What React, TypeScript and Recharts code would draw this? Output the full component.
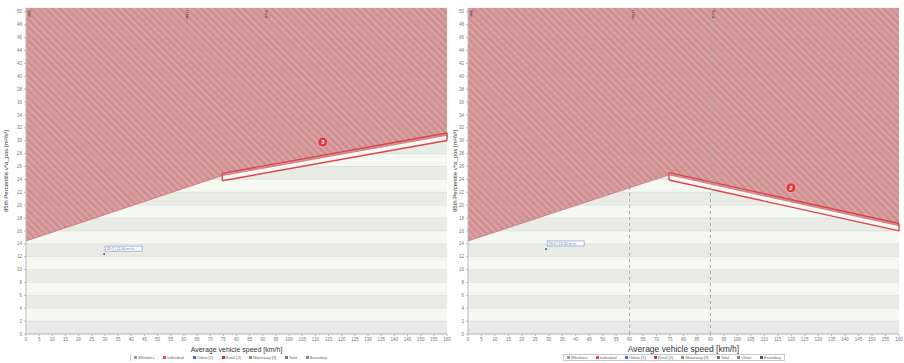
import { Area, CartesianGrid, ComposedChart, Line, ReferenceDot, ReferenceLine, XAxis, YAxis } from 'recharts';

// speed axis [km/h]
const speedTicks = [0, 5, 10, 15, 20, 25, 30, 35, 40, 45, 50, 55, 60, 65, 70, 75, 80, 85, 90, 95, 100, 105, 110, 115, 120, 125, 130, 135, 140, 145, 150, 155, 160];
// 95th percentile v*a_pos [m²/s³]
const valueTicks = [0, 2, 4, 6, 8, 10, 12, 14, 16, 18, 20, 22, 24, 26, 28, 30, 32, 34, 36, 38, 40, 42, 44, 46, 48, 50];

// limit curve, left chart
const leftLimitSpeed = [0, 74.6, 160];
const leftLimitValue = [14.44, 24.59, 30.84];
// limit curve, right chart
const rightLimitSpeed = [0, 74.6, 160];
const rightLimitValue = [14.44, 24.7, 16.8];

// highlighted stretch of the limit (speed range)
const highlightSpeed = [74.6, 160];

// phase markers at the top
const phaseSpeed = [0, 60, 90];
const phaseNames = ['Start', 'Urban', 'Rural'];

// numbered badges: speed, value, label
const leftBadge = { v: 112.8, y: 29.8, label: '3' };
const rightBadge = { v: 119.9, y: 22.7, label: '2' };

// trip result points with their note
const leftPoint = { v: 29.7, y: 12.4, text: '29.7 | 12.40 m²/s³' };
const rightPoint = { v: 29.0, y: 13.2, text: '29.0 | 13.20 m²/s³' };

const legendLeft = ['Whiskers', 'Individual', 'Urban [1]', 'Rural [2]', 'Motorway [3]', 'Total', 'Boundary'];
const legendRight = ['Whiskers', 'Individual', 'Urban [1]', 'Rural [2]', 'Motorway [3]', 'Total', 'Other', 'Boundary'];
const legendColors = ['#999', '#d9534f', '#3b6fc4', '#c0392b', '#6aa84f', '#777', '#888', '#555'];

const Y_TOP = 50.6;
const FONT = '"Liberation Sans", Arial, sans-serif';

function buildRows(speeds: number[], values: number[]) {
  return speeds.map((v, i) => {
    const b = values[i];
    const inBox = v >= highlightSpeed[0] && v <= highlightSpeed[1];
    return {
      v,
      limit: b,
      zone: [b, Y_TOP],
      gap: inBox ? [b - 0.75, b] : null,
      box: inBox ? [b - 0.8, b + 0.35] : null,
    };
  });
}

function limitAt(speeds: number[], values: number[], v: number) {
  const i = speeds.indexOf(v);
  return values[i];
}

type ChartProps = {
  id: string;
  speeds: number[];
  values: number[];
  width: number;
  yWidth: number;
  marginRight: number;
  badge: { v: number; y: number; label: string };
  point: { v: number; y: number; text: string };
  dashedPhases: boolean;
  titleSize: number;
};

function RdeChart({ id, speeds, values, width, yWidth, marginRight, badge, point, dashedPhases, titleSize }: ChartProps) {
  const rows = buildRows(speeds, values);
  const b0 = limitAt(speeds, values, highlightSpeed[0]);
  const b1 = limitAt(speeds, values, highlightSpeed[1]);
  return (
    <ComposedChart width={width} height={363} data={rows} margin={{ top: 8, right: marginRight, bottom: 0, left: 0 }}>
      <defs>
        <pattern id={`hatch-${id}`} patternUnits="userSpaceOnUse" width="5" height="5" patternTransform="rotate(-45)">
          <rect width="5" height="5" fill="#d89c9e" />
          <rect width="2.5" height="5" fill="#cb8587" />
        </pattern>
      </defs>
      <CartesianGrid
        vertical={false}
        stroke="#d9dcd5"
        strokeWidth={0.6}
        horizontalFill={['#f6f9f1', '#e9ece5']}
      />
      <XAxis
        type="number"
        dataKey="v"
        domain={[0, 160]}
        ticks={speedTicks}
        interval={0}
        height={29}
        tick={{ fontSize: 4.5, fill: '#777', fontFamily: FONT }}
        tickSize={2}
        stroke="#bbb"
        label={{ value: 'Average vehicle speed [km/h]', position: 'insideBottom', offset: 11, fontSize: titleSize, fill: '#333', fontFamily: FONT }}
      />
      <YAxis
        type="number"
        domain={[0, Y_TOP]}
        ticks={valueTicks}
        interval={0}
        width={yWidth}
        tick={{ fontSize: 4.5, fill: '#777', fontFamily: FONT }}
        tickSize={2}
        stroke="#bbb"
        label={{ value: '95th Percentile v*a_pos [m²/s³]', angle: -90, position: 'insideLeft', offset: 6, fontSize: 6, fill: '#333', fontFamily: FONT, style: { textAnchor: 'middle' } }}
      />
      {phaseSpeed.map((s, i) => (
        <ReferenceLine
          key={s}
          x={s}
          stroke={dashedPhases && i > 0 ? '#a8a8a8' : 'none'}
          strokeDasharray="3 3"
          label={({ viewBox }: any) => (
            <text x={viewBox.x + 2} y={viewBox.y + 2} fontSize={3.5} fill="#333" fontFamily={FONT} transform={`rotate(90 ${viewBox.x + 2} ${viewBox.y + 2})`}>
              {phaseNames[i]}
            </text>
          )}
        />
      ))}
      <Area dataKey="gap" type="linear" stroke="none" fill="#ffffff" fillOpacity={1} isAnimationActive={false} connectNulls={false} />
      <Area dataKey="zone" type="linear" stroke="none" fill={`url(#hatch-${id})`} fillOpacity={0.92} isAnimationActive={false} />
      <Line dataKey="limit" type="linear" stroke="#c97476" strokeWidth={0.8} dot={false} activeDot={false} isAnimationActive={false} />
      <Area dataKey="box" type="linear" stroke="#d9464a" strokeWidth={1.4} fill="#d9464a" fillOpacity={0.05} isAnimationActive={false} connectNulls={false} />
      <ReferenceLine segment={[{ x: highlightSpeed[0], y: b0 - 0.8 }, { x: highlightSpeed[0], y: b0 + 0.35 }]} stroke="#d9464a" strokeWidth={1.4} />
      <ReferenceLine segment={[{ x: highlightSpeed[1], y: b1 - 0.8 }, { x: highlightSpeed[1], y: b1 + 0.35 }]} stroke="#d9464a" strokeWidth={1.4} ifOverflow="visible" />
      <ReferenceDot
        x={badge.v}
        y={badge.y}
        r={5}
        fill="#e0393e"
        stroke="#f4b0b0"
        strokeWidth={0.8}
        label={{ value: badge.label, position: 'center', fontSize: 6, fill: '#fff', fontFamily: FONT, fontWeight: 700 }}
      />
      <ReferenceDot
        x={point.v}
        y={point.y}
        r={1}
        fill="#3a5a9a"
        stroke="none"
        label={({ viewBox }: any) => (
          <g>
            <rect x={viewBox.x + 2} y={viewBox.y - 7} width={37} height={5} fill="#ffffff" stroke="#6b8cc9" strokeWidth={0.6} />
            <text x={viewBox.x + 3.5} y={viewBox.y - 3.3} fontSize={3.6} fill="#5a74a8" fontFamily={FONT}>
              {point.text}
            </text>
          </g>
        )}
      />
    </ComposedChart>
  );
}

function Legend({ items, left, width, boxed }: { items: string[]; left: number; width: number; boxed: boolean }) {
  return (
    <div
      style={{
        position: 'absolute',
        left,
        top: 354,
        width,
        height: 7,
        display: 'flex',
        alignItems: 'center',
        justifyContent: 'space-between',
        padding: '0 3px',
        boxSizing: 'border-box',
        border: boxed ? '0.6px solid #c9c9c9' : 'none',
        borderLeft: '0.6px solid #c9c9c9',
        fontFamily: FONT,
        fontSize: 4,
        color: '#666',
        background: '#fff',
      }}
    >
      {items.map((t, i) => (
        <span key={t} style={{ display: 'flex', alignItems: 'center', gap: 1 }}>
          <span style={{ width: 3, height: 3, background: legendColors[i % legendColors.length], display: 'inline-block' }} />
          {t}
        </span>
      ))}
    </div>
  );
}

export default function App() {
  return (
    <div style={{ position: 'absolute', left: 0, top: 0, width: 904, height: 363, background: '#fff', overflow: 'hidden' }}>
      <div style={{ position: 'absolute', left: 0, top: 0 }}>
        <RdeChart
          id="l"
          speeds={leftLimitSpeed}
          values={leftLimitValue}
          width={452}
          yWidth={26}
          marginRight={5}
          badge={leftBadge}
          point={leftPoint}
          dashedPhases={false}
          titleSize={7}
        />
      </div>
      <div style={{ position: 'absolute', left: 449, top: 0 }}>
        <RdeChart
          id="r"
          speeds={rightLimitSpeed}
          values={rightLimitValue}
          width={455}
          yWidth={19}
          marginRight={5}
          badge={rightBadge}
          point={rightPoint}
          dashedPhases={true}
          titleSize={8.5}
        />
      </div>
      <Legend items={legendLeft} left={130} width={200} boxed={false} />
      <Legend items={legendRight} left={563} width={222} boxed={true} />
    </div>
  );
}
